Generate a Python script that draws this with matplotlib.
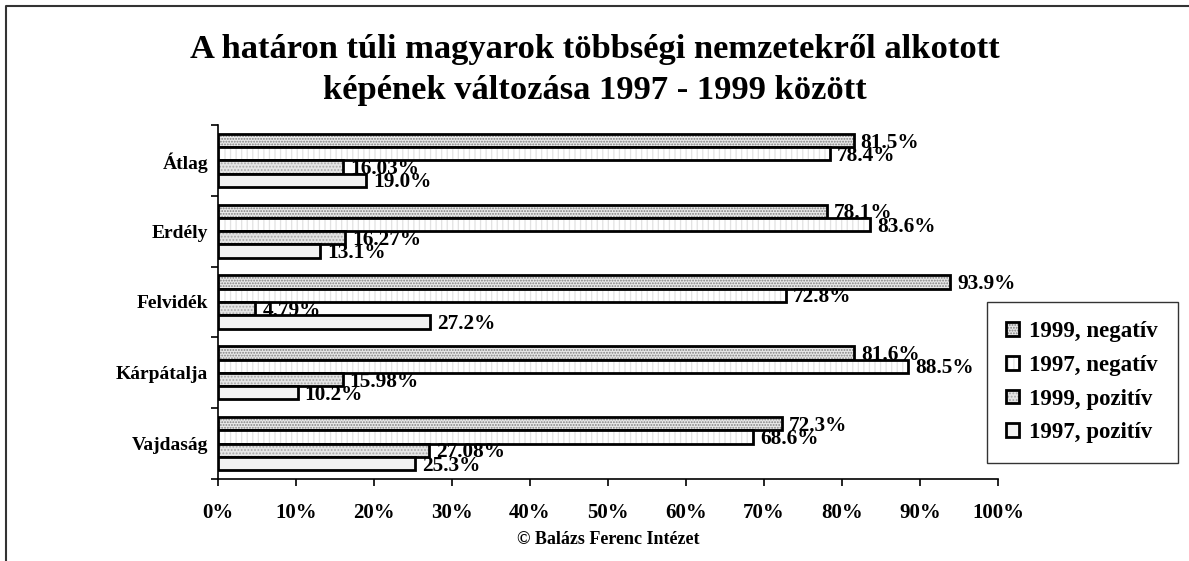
import matplotlib.pyplot as plt
import numpy as np
from matplotlib.lines import Line2D

plt.rcParams['font.family'] = ['Liberation Serif', 'DejaVu Serif']
plt.rcParams['font.weight'] = 'bold'
plt.rcParams['axes.labelweight'] = 'bold'
plt.rcParams['hatch.linewidth'] = 0.9

# Data
regions = ['Átlag', 'Erdély', 'Felvidék', 'Kárpátalja', 'Vajdaság']
series = ['1999, negatív', '1997, negatív', '1999, pozitív', '1997, pozitív']
neg_1999 = [81.5, 78.1, 93.9, 81.6, 72.3]
neg_1997 = [78.4, 83.6, 72.8, 88.5, 68.6]
poz_1999 = [16.03, 16.27, 4.79, 15.98, 27.08]
poz_1997 = [19.0, 13.1, 27.2, 10.2, 25.3]
labels_neg_1999 = ['81.5%', '78.1%', '93.9%', '81.6%', '72.3%']
labels_neg_1997 = ['78.4%', '83.6%', '72.8%', '88.5%', '68.6%']
labels_poz_1999 = ['16.03%', '16.27%', '4.79%', '15.98%', '27.08%']
labels_poz_1997 = ['19.0%', '13.1%', '27.2%', '10.2%', '25.3%']

values = [neg_1999, neg_1997, poz_1999, poz_1997]
texts = [labels_neg_1999, labels_neg_1997, labels_poz_1999, labels_poz_1997]
faces = ['#e8e8e8', '#ffffff', '#e4e4e4', '#f2f2f2']
hatches = ['......', '|||', '.....', None]
hcolors = ['#808080', '#e2e2e2', '#a8a8a8', '#f2f2f2']

fig = plt.figure(figsize=(11.89, 5.61), dpi=100)
ax = fig.add_axes([218 / 1189, 1 - 479 / 561, 780 / 1189, (479 - 125) / 561])

y = np.arange(len(regions))
h = 0.1875
handles = []
for i in range(4):
    pos = y + (i - 1.5) * h
    b1 = ax.barh(pos, values[i], height=h, color=faces[i], hatch=hatches[i],
                 edgecolor=hcolors[i], linewidth=0)
    b2 = ax.barh(pos, values[i], height=h, fill=False, edgecolor='black',
                 linewidth=2)
    handles.append((b1[0], b2[0]))
    for p, v, t in zip(pos, values[i], texts[i]):
        ax.text(v + 0.9, p + 0.03, t, va='center', ha='left', fontsize=15.3,
                fontweight='bold')

ax.set_xlim(0, 100)
ax.set_ylim(4.5, -0.5)
ax.set_xticks(np.arange(0, 101, 10))
ax.set_xticklabels([f'{v}%' for v in range(0, 101, 10)], fontsize=15)
ax.set_yticks(y)
ax.set_yticklabels(regions, fontsize=14)
ax.set_yticks(np.arange(-0.5, 4.6, 1), minor=True)
ax.tick_params(axis='y', which='major', length=0, pad=7)
ax.tick_params(axis='y', which='minor', length=5, width=1.2)
ax.tick_params(axis='x', length=5, width=1.2, pad=12)
for s in ['top', 'right']:
    ax.spines[s].set_visible(False)
ax.spines['left'].set_linewidth(1.2)
ax.spines['bottom'].set_linewidth(1.2)
ax.set_xlabel('© Balázs Ferenc Intézet', fontsize=13, labelpad=6)

fig.suptitle('A határon túli magyarok többségi nemzetekről alkotott\n'
             'képének változása 1997 - 1999 között',
             fontsize=24.8, fontweight='bold', y=0.94, x=0.5, linespacing=1.45)

leg = fig.legend(handles, series, loc='upper left',
                 bbox_to_anchor=(987 / 1189, 1 - 302 / 561), fontsize=16.5,
                 handlelength=0.55, handleheight=0.55, handletextpad=0.45,
                 labelspacing=0.55, borderpad=0.85, borderaxespad=0,
                 fancybox=False, frameon=True, edgecolor='black')
leg.get_frame().set_linewidth(1)

# Outer border (top and left)
x0 = 6 / 1189
y0 = 1 - 6 / 561
fig.add_artist(Line2D([x0, x0, 1], [0, y0, y0], transform=fig.transFigure,
                      color='#333333', linewidth=1.5))

fig.savefig('out.png', dpi=100)
